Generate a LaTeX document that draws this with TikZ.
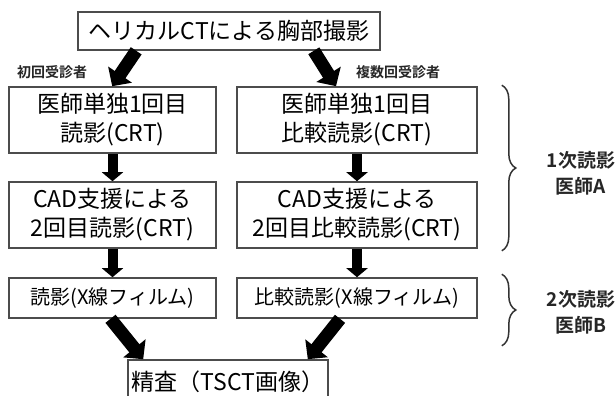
\documentclass[tikz,border=0pt]{standalone}
\usepackage{fontspec}
\setmainfont{Noto Sans CJK JP}[BoldFont={Noto Sans CJK JP Bold}]
\usetikzlibrary{arrows.meta,decorations.pathreplacing,calc}
\tikzset{
  box/.style={draw=black!70, line width=1.6pt, inner sep=0pt, align=center, fill=white},
  bigtxt/.style={font=\fontsize{23}{29}\selectfont},
  midtxt/.style={font=\fontsize{20}{24}\selectfont},
  smalltxt/.style={font=\fontsize{14}{16}\selectfont\bfseries, text=black!85},
  sidetxt/.style={font=\fontsize{19}{26}\selectfont\bfseries, text=black!85, align=center},
  fatarrow/.style={line width=13pt, -{Triangle[width=28pt,length=14pt]}, black},
  thinarrow/.style={line width=10pt, -{Triangle[width=21pt,length=9pt]}, black},
  bracestyle/.style={decorate, decoration={brace, amplitude=14pt, aspect=0.5}, line width=1.5pt, black!80}
}
\begin{document}
\begin{tikzpicture}[x=1pt,y=-1pt]
\useasboundingbox (0,0) rectangle (616,396);
\clip (0,0) rectangle (616,396);
\node[box,bigtxt,minimum width=302pt,minimum height=38pt] (top) at (229,31) {ヘリカルCTによる胸部撮影};
\node[smalltxt] (lab1) at (52,72) {初回受診者};
\node[smalltxt] (lab2) at (398,72) {複数回受診者};
\node[box,bigtxt,minimum width=207pt,minimum height=66pt] (L1) at (112.5,120) {医師単独1回目\\読影(CRT)};
\node[box,bigtxt,minimum width=240pt,minimum height=66pt] (R1) at (357,120) {医師単独1回目\\比較読影(CRT)};
\node[box,bigtxt,minimum width=207pt,minimum height=66pt] (L2) at (112.5,215) {CAD支援による\\2回目読影(CRT)};
\node[box,bigtxt,minimum width=240pt,minimum height=66pt] (R2) at (357,215) {CAD支援による\\2回目比較読影(CRT)};
\node[box,midtxt,minimum width=207pt,minimum height=40pt] (L3) at (112.5,298) {読影(X線フィルム)};
\node[box,midtxt,minimum width=240pt,minimum height=40pt] (R3) at (357,298) {比較読影(X線フィルム)};
\node[box,bigtxt,minimum width=200pt,minimum height=44pt] (B) at (228,382) {精査（TSCT画像）};
\node[sidetxt] (sA) at (581,173) {1次読影\\医師A};
\node[sidetxt] (sB) at (581,312) {2次読影\\医師B};
\coordinate (b1t) at ($(R1.north east)+(24pt,1pt)$);
\coordinate (b1b) at ($(R2.south east)+(24pt,-2pt)$);
\coordinate (b2t) at ($(R3.north east)+(24pt,3pt)$);
\coordinate (b2b) at ($(R3.south east)+(24pt,-27pt)$);
\draw[fatarrow] ([xshift=59pt]top.south west) -- ([xshift=104pt]L1.north west);
\draw[fatarrow] ([xshift=-67pt]top.south east) -- ([xshift=-21pt]R1.north);
\draw[thinarrow] (L1.south) -- (L2.north);
\draw[thinarrow] (R1.south) -- (R2.north);
\draw[thinarrow] (L2.south) -- (L3.north);
\draw[thinarrow] (R2.south) -- (R3.north);
\draw[fatarrow] ([xshift=-2pt]L3.south) -- ([xshift=16pt]B.north west);
\draw[fatarrow] ([xshift=-17pt]R3.south) -- ([xshift=-21pt]B.north east);
\draw[bracestyle] (b1t) -- (b1b);
\draw[bracestyle] (b2t) -- (b2b);
\end{tikzpicture}
\end{document}
